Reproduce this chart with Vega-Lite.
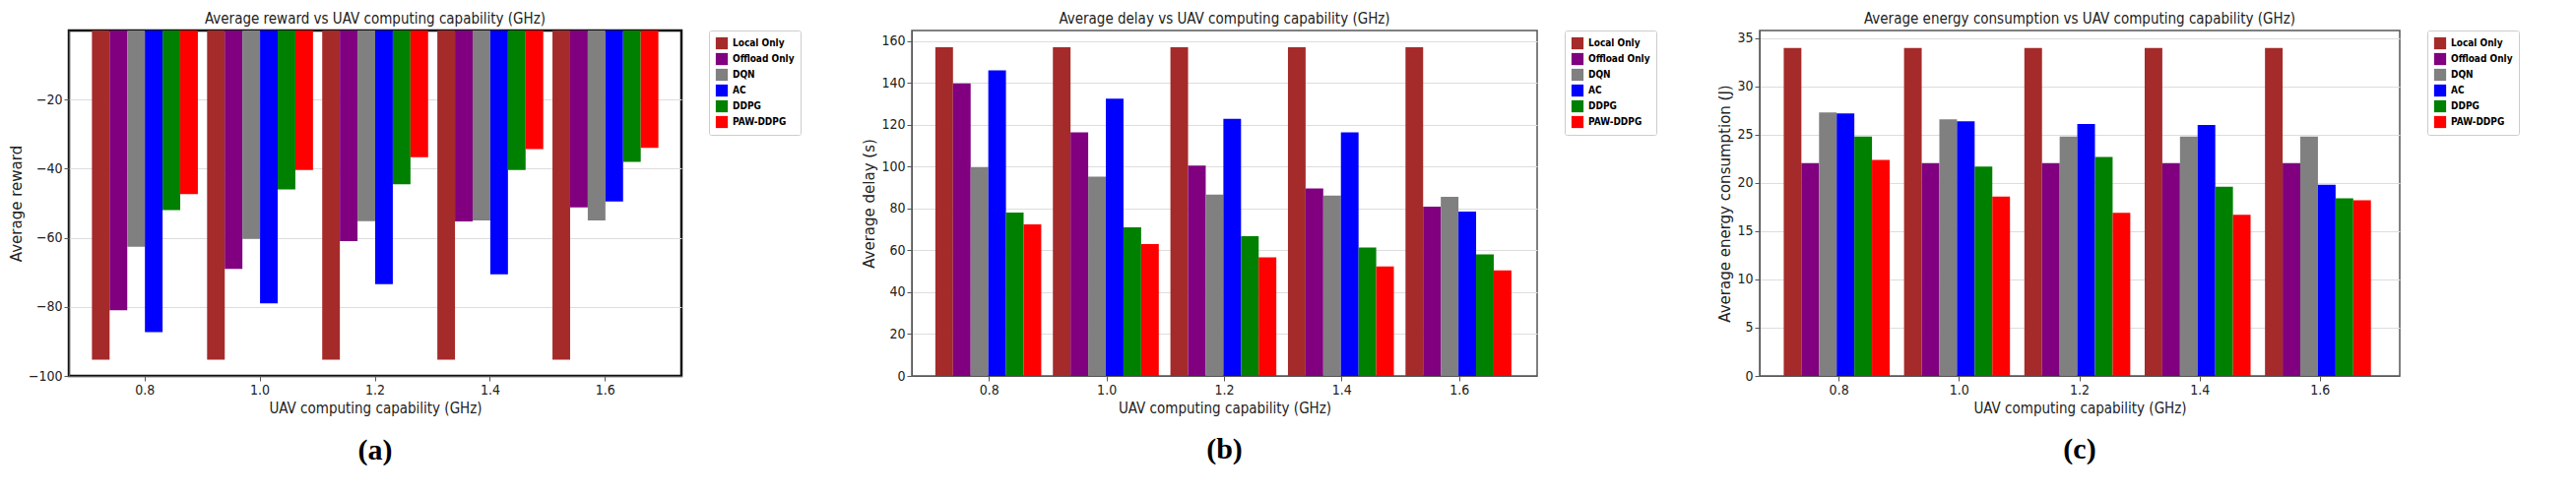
{
  "$schema": "https://vega.github.io/schema/vega-lite/v6.json",
  "background": "white",
  "padding": {"left": 8, "top": 10, "right": 0, "bottom": 0},
  "config": {
    "font": "DejaVu Sans Condensed",
    "view": {"stroke": "#555", "strokeWidth": 1.5},
    "axis": {"labelFontSize": 14, "titleFontSize": 15, "titleFontWeight": "normal", "labelColor": "#222", "titleColor": "#222", "gridColor": "#ddd", "domainColor": "#555", "tickColor": "#555"},
    "title": {"fontSize": 15, "fontWeight": "normal", "color": "#222", "offset": 4},
    "legend": {"labelFontSize": 10, "labelFontWeight": "bold", "symbolType": "square", "symbolSize": 150, "strokeColor": "#ccc", "padding": 6, "cornerRadius": 2, "offset": 28, "title": null, "rowPadding": 2},
    "concat": {"spacing": 60}
  },
  "datasets": {
    "reward": [
      {"x": "0.8", "m": "Local Only", "v": -95.3}, {"x": "0.8", "m": "Offload Only", "v": -81}, {"x": "0.8", "m": "DQN", "v": -62.6}, {"x": "0.8", "m": "AC", "v": -87.3}, {"x": "0.8", "m": "DDPG", "v": -52}, {"x": "0.8", "m": "PAW-DDPG", "v": -47.4},
      {"x": "1.0", "m": "Local Only", "v": -95.3}, {"x": "1.0", "m": "Offload Only", "v": -69}, {"x": "1.0", "m": "DQN", "v": -60.3}, {"x": "1.0", "m": "AC", "v": -79}, {"x": "1.0", "m": "DDPG", "v": -46}, {"x": "1.0", "m": "PAW-DDPG", "v": -40.4},
      {"x": "1.2", "m": "Local Only", "v": -95.3}, {"x": "1.2", "m": "Offload Only", "v": -61}, {"x": "1.2", "m": "DQN", "v": -55.2}, {"x": "1.2", "m": "AC", "v": -73.4}, {"x": "1.2", "m": "DDPG", "v": -44.5}, {"x": "1.2", "m": "PAW-DDPG", "v": -36.7},
      {"x": "1.4", "m": "Local Only", "v": -95.3}, {"x": "1.4", "m": "Offload Only", "v": -55.3}, {"x": "1.4", "m": "DQN", "v": -55}, {"x": "1.4", "m": "AC", "v": -70.6}, {"x": "1.4", "m": "DDPG", "v": -40.4}, {"x": "1.4", "m": "PAW-DDPG", "v": -34.3},
      {"x": "1.6", "m": "Local Only", "v": -95.3}, {"x": "1.6", "m": "Offload Only", "v": -51.2}, {"x": "1.6", "m": "DQN", "v": -55}, {"x": "1.6", "m": "AC", "v": -49.5}, {"x": "1.6", "m": "DDPG", "v": -38}, {"x": "1.6", "m": "PAW-DDPG", "v": -34}
    ],
    "delay": [
      {"x": "0.8", "m": "Local Only", "v": 157}, {"x": "0.8", "m": "Offload Only", "v": 139.7}, {"x": "0.8", "m": "DQN", "v": 99.7}, {"x": "0.8", "m": "AC", "v": 146}, {"x": "0.8", "m": "DDPG", "v": 78}, {"x": "0.8", "m": "PAW-DDPG", "v": 72.4},
      {"x": "1.0", "m": "Local Only", "v": 157}, {"x": "1.0", "m": "Offload Only", "v": 116.4}, {"x": "1.0", "m": "DQN", "v": 95.2}, {"x": "1.0", "m": "AC", "v": 132.4}, {"x": "1.0", "m": "DDPG", "v": 71}, {"x": "1.0", "m": "PAW-DDPG", "v": 63},
      {"x": "1.2", "m": "Local Only", "v": 157}, {"x": "1.2", "m": "Offload Only", "v": 100.5}, {"x": "1.2", "m": "DQN", "v": 86.6}, {"x": "1.2", "m": "AC", "v": 122.8}, {"x": "1.2", "m": "DDPG", "v": 66.7}, {"x": "1.2", "m": "PAW-DDPG", "v": 56.6},
      {"x": "1.4", "m": "Local Only", "v": 157}, {"x": "1.4", "m": "Offload Only", "v": 89.5}, {"x": "1.4", "m": "DQN", "v": 86.1}, {"x": "1.4", "m": "AC", "v": 116.4}, {"x": "1.4", "m": "DDPG", "v": 61.4}, {"x": "1.4", "m": "PAW-DDPG", "v": 52.3},
      {"x": "1.6", "m": "Local Only", "v": 157}, {"x": "1.6", "m": "Offload Only", "v": 80.9}, {"x": "1.6", "m": "DQN", "v": 85.6}, {"x": "1.6", "m": "AC", "v": 78.5}, {"x": "1.6", "m": "DDPG", "v": 58}, {"x": "1.6", "m": "PAW-DDPG", "v": 50.4}
    ],
    "energy": [
      {"x": "0.8", "m": "Local Only", "v": 34}, {"x": "0.8", "m": "Offload Only", "v": 22.05}, {"x": "0.8", "m": "DQN", "v": 27.3}, {"x": "0.8", "m": "AC", "v": 27.2}, {"x": "0.8", "m": "DDPG", "v": 24.8}, {"x": "0.8", "m": "PAW-DDPG", "v": 22.4},
      {"x": "1.0", "m": "Local Only", "v": 34}, {"x": "1.0", "m": "Offload Only", "v": 22.05}, {"x": "1.0", "m": "DQN", "v": 26.6}, {"x": "1.0", "m": "AC", "v": 26.4}, {"x": "1.0", "m": "DDPG", "v": 21.7}, {"x": "1.0", "m": "PAW-DDPG", "v": 18.6},
      {"x": "1.2", "m": "Local Only", "v": 34}, {"x": "1.2", "m": "Offload Only", "v": 22.05}, {"x": "1.2", "m": "DQN", "v": 24.8}, {"x": "1.2", "m": "AC", "v": 26.1}, {"x": "1.2", "m": "DDPG", "v": 22.7}, {"x": "1.2", "m": "PAW-DDPG", "v": 16.9},
      {"x": "1.4", "m": "Local Only", "v": 34}, {"x": "1.4", "m": "Offload Only", "v": 22.05}, {"x": "1.4", "m": "DQN", "v": 24.8}, {"x": "1.4", "m": "AC", "v": 26.0}, {"x": "1.4", "m": "DDPG", "v": 19.6}, {"x": "1.4", "m": "PAW-DDPG", "v": 16.7},
      {"x": "1.6", "m": "Local Only", "v": 34}, {"x": "1.6", "m": "Offload Only", "v": 22.05}, {"x": "1.6", "m": "DQN", "v": 24.8}, {"x": "1.6", "m": "AC", "v": 19.8}, {"x": "1.6", "m": "DDPG", "v": 18.4}, {"x": "1.6", "m": "PAW-DDPG", "v": 18.2}
    ],
    "labA": [{"t": "(a)"}],
    "labB": [{"t": "(b)"}],
    "labC": [{"t": "(c)"}]
  },
  "resolve": {"scale": {"color": "independent", "y": "independent"}, "legend": {"color": "independent"}},
  "hconcat": [
    {
      "spacing": 14,
      "resolve": {"scale": {"color": "independent"}, "legend": {"color": "independent"}},
      "vconcat": [
        {
          "title": "Average reward vs UAV computing capability (GHz)",
          "width": 622, "height": 351,
          "view": {"stroke": "#111", "strokeWidth": 2.5},
          "data": {"name": "reward"},
          "mark": {"type": "bar"},
          "encoding": {
            "x": {"field": "x", "type": "nominal", "title": "UAV computing capability (GHz)", "scale": {"paddingInner": 0.08, "paddingOuter": 0.2}, "axis": {"labelAngle": 0, "grid": false, "titlePadding": 4}},
            "xOffset": {"field": "m", "sort": ["Local Only", "Offload Only", "DQN", "AC", "DDPG", "PAW-DDPG"]},
            "y": {"field": "v", "type": "quantitative", "title": "Average reward", "scale": {"domain": [-100, 0], "nice": false}, "axis": {"values": [-100, -80, -60, -40, -20], "titleFont": "DejaVu Sans"}},
            "color": {"field": "m", "type": "nominal", "sort": ["Local Only", "Offload Only", "DQN", "AC", "DDPG", "PAW-DDPG"], "scale": {"domain": ["Local Only", "Offload Only", "DQN", "AC", "DDPG", "PAW-DDPG"], "range": ["#a52a2a", "#800080", "#808080", "#0000ff", "#008000", "#ff0000"]}, "legend": {"orient": "right"}}
          }
        },
        {
          "width": 622, "height": 40, "view": {"stroke": null},
          "data": {"name": "labA"},
          "mark": {"type": "text", "fontSize": 30, "fontWeight": "bold", "font": "Liberation Serif"},
          "encoding": {"text": {"field": "t"}}
        }
      ]
    },
    {
      "spacing": 14,
      "resolve": {"scale": {"color": "independent"}, "legend": {"color": "independent"}},
      "vconcat": [
        {
          "title": "Average delay vs UAV computing capability (GHz)",
          "width": 635, "height": 351,
          "data": {"name": "delay"},
          "mark": {"type": "bar"},
          "encoding": {
            "x": {"field": "x", "type": "nominal", "title": "UAV computing capability (GHz)", "scale": {"paddingInner": 0.08, "paddingOuter": 0.2}, "axis": {"labelAngle": 0, "grid": false, "titlePadding": 4}},
            "xOffset": {"field": "m", "sort": ["Local Only", "Offload Only", "DQN", "AC", "DDPG", "PAW-DDPG"]},
            "y": {"field": "v", "type": "quantitative", "title": "Average delay (s)", "scale": {"domain": [0, 165], "nice": false}, "axis": {"values": [0, 20, 40, 60, 80, 100, 120, 140, 160], "titleFont": "DejaVu Sans"}},
            "color": {"field": "m", "type": "nominal", "sort": ["Local Only", "Offload Only", "DQN", "AC", "DDPG", "PAW-DDPG"], "scale": {"domain": ["Local Only", "Offload Only", "DQN", "AC", "DDPG", "PAW-DDPG"], "range": ["#a52a2a", "#800080", "#808080", "#0000ff", "#008000", "#ff0000"]}, "legend": {"orient": "right"}}
          }
        },
        {
          "width": 635, "height": 40, "view": {"stroke": null},
          "data": {"name": "labB"},
          "mark": {"type": "text", "fontSize": 30, "fontWeight": "bold", "font": "Liberation Serif"},
          "encoding": {"text": {"field": "t"}}
        }
      ]
    },
    {
      "spacing": 14,
      "resolve": {"scale": {"color": "independent"}, "legend": {"color": "independent"}},
      "vconcat": [
        {
          "title": "Average energy consumption vs UAV computing capability (GHz)",
          "width": 650, "height": 351,
          "data": {"name": "energy"},
          "mark": {"type": "bar"},
          "encoding": {
            "x": {"field": "x", "type": "nominal", "title": "UAV computing capability (GHz)", "scale": {"paddingInner": 0.08, "paddingOuter": 0.2}, "axis": {"labelAngle": 0, "grid": false, "titlePadding": 4}},
            "xOffset": {"field": "m", "sort": ["Local Only", "Offload Only", "DQN", "AC", "DDPG", "PAW-DDPG"]},
            "y": {"field": "v", "type": "quantitative", "title": "Average energy consumption (J)", "scale": {"domain": [0, 35.8], "nice": false}, "axis": {"values": [0, 5, 10, 15, 20, 25, 30, 35], "titleFont": "DejaVu Sans"}},
            "color": {"field": "m", "type": "nominal", "sort": ["Local Only", "Offload Only", "DQN", "AC", "DDPG", "PAW-DDPG"], "scale": {"domain": ["Local Only", "Offload Only", "DQN", "AC", "DDPG", "PAW-DDPG"], "range": ["#a52a2a", "#800080", "#808080", "#0000ff", "#008000", "#ff0000"]}, "legend": {"orient": "right"}}
          }
        },
        {
          "width": 650, "height": 40, "view": {"stroke": null},
          "data": {"name": "labC"},
          "mark": {"type": "text", "fontSize": 30, "fontWeight": "bold", "font": "Liberation Serif"},
          "encoding": {"text": {"field": "t"}}
        }
      ]
    }
  ]
}
